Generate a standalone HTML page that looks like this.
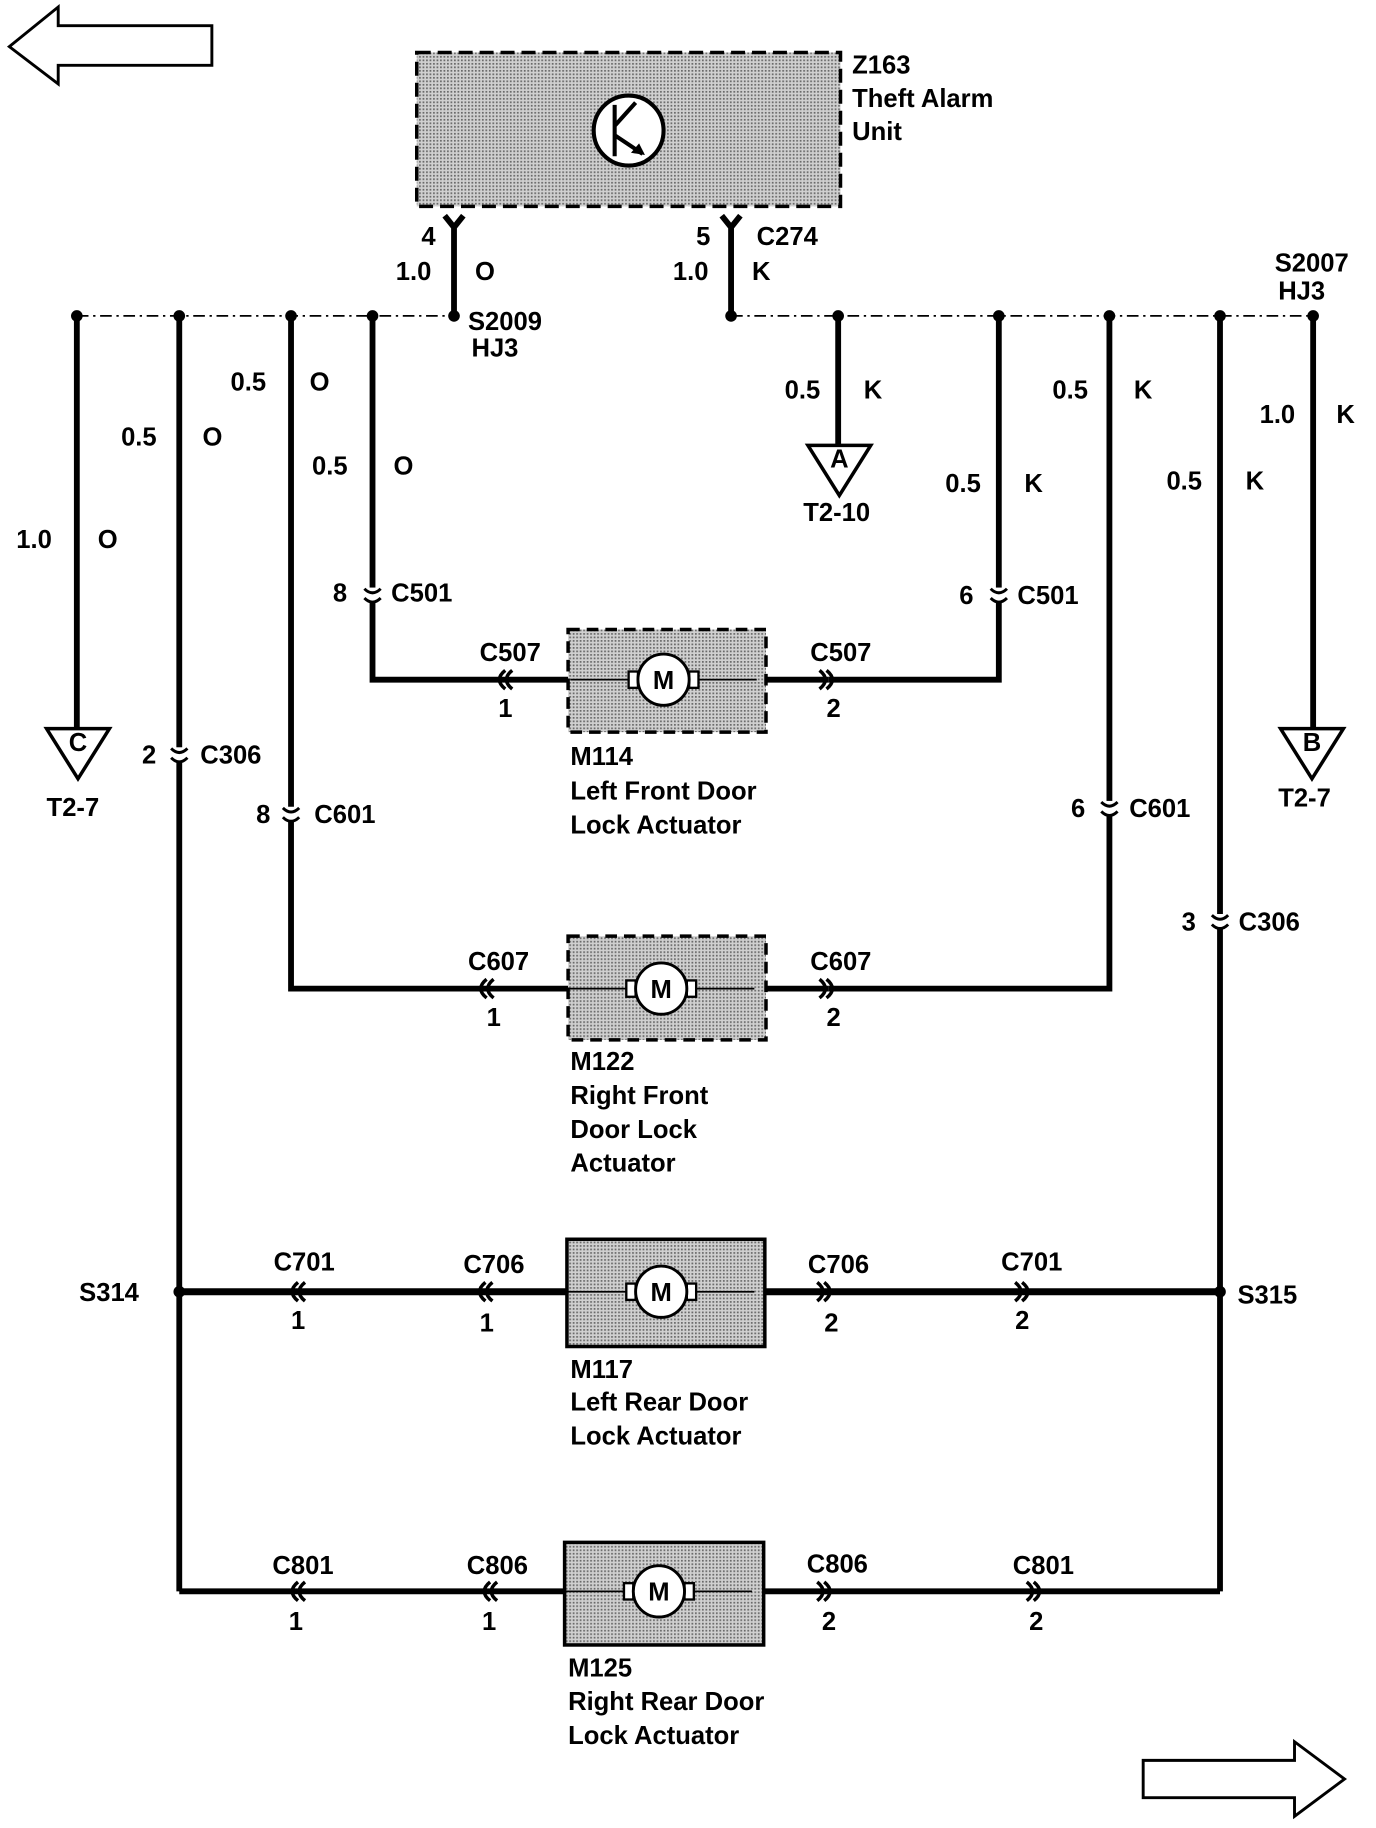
<!DOCTYPE html>
<html><head><meta charset="utf-8"><style>
html,body{margin:0;padding:0;background:#fff}
svg{display:block}
text{font-family:"Liberation Sans",sans-serif;font-weight:bold;font-size:22px;fill:#000}
</style></head><body>
<svg width="1376" height="1828" viewBox="0 0 1182 1568" preserveAspectRatio="none" xmlns="http://www.w3.org/2000/svg">
<defs>
<pattern id="dots" width="3" height="3" patternUnits="userSpaceOnUse">
<rect width="3" height="3" fill="#d0d0d0"/><rect width="1.5" height="1.5" fill="#6a6a6a"/>
</pattern>
<g id="motor">
<line x1="-80" y1="0" x2="80" y2="0" stroke="#000" stroke-width="1.5"/>
<rect x="-30" y="-7" width="8" height="14" fill="#fff" stroke="#000" stroke-width="2"/>
<rect x="22" y="-7" width="8" height="14" fill="#fff" stroke="#000" stroke-width="2"/>
<circle r="22" fill="#fff" stroke="#000" stroke-width="2.5"/>
<text x="0" y="8" text-anchor="middle" font-size="22">M</text>
</g>
<g id="connL"><path d="M6,-8 Q-4,0 6,8 M12,-8 Q2,0 12,8" fill="none" stroke="#000" stroke-width="3"/></g>
<g id="connR"><path d="M-6,-8 Q4,0 -6,8 M-12,-8 Q-2,0 -12,8" fill="none" stroke="#000" stroke-width="3"/></g>
<g id="connV"><rect x="-8" y="-6" width="16" height="12" fill="#fff"/><path d="M-7,-5 Q0,2 7,-5 M-7,3 Q0,10 7,3" fill="none" stroke="#000" stroke-width="2.5"/></g>
</defs>
<g fill="none" stroke="#000" stroke-width="2.5">
<polygon points="8,40 50,6 50,22 182,22 182,56 50,56 50,72"/>
<polygon points="1155,1526 1112,1494 1112,1510 982,1510 982,1542 1112,1542 1112,1558"/>
</g>
<!-- Z163 -->
<rect x="358" y="45" width="364" height="132" fill="url(#dots)" stroke="#000" stroke-width="3" stroke-dasharray="12,6"/>
<circle cx="540" cy="112" r="30" fill="#fff" stroke="#000" stroke-width="3.5"/>
<path d="M528,90 L528,134 M528,108 L546,88 M528,116 L552,132" stroke="#000" stroke-width="3.5" fill="none"/>
<polygon points="554,133 542,131 549,123" fill="#000"/>
<text x="732" y="63">Z163</text><text x="732" y="92">Theft Alarm</text><text x="732" y="120">Unit</text>
<!-- top wires -->
<g stroke="#000" stroke-width="5" fill="none">
<path d="M382,185 L390,195 L398,185 M390,195 L390,271"/>
<path d="M620,185 L628,195 L636,185 M628,195 L628,271"/>
</g>
<text x="362" y="210">4</text><text x="340" y="240">1.0</text><text x="408" y="240">O</text>
<text x="598" y="210">5</text><text x="650" y="210">C274</text><text x="578" y="240">1.0</text><text x="646" y="240">K</text>
<g stroke="#000" stroke-width="1.5" stroke-dasharray="10,4,2,4">
<line x1="66" y1="271" x2="390" y2="271"/><line x1="628" y1="271" x2="1128" y2="271"/>
</g>
<text x="402" y="283">S2009</text><text x="405" y="306">HJ3</text>
<text x="1095" y="233">S2007</text><text x="1098" y="257">HJ3</text>
<!-- verticals and horizontals -->
<g stroke="#000" stroke-width="5" fill="none">
<line x1="66" y1="271" x2="66" y2="625"/>
<line x1="154" y1="271" x2="154" y2="1365"/>
<path d="M250,271 L250,848 L420,848"/>
<path d="M320,271 L320,583 L430,583"/>
<line x1="720" y1="271" x2="720" y2="382"/>
<path d="M858,271 L858,583 L712,583"/>
<path d="M953,271 L953,848 L712,848"/>
<line x1="1048" y1="271" x2="1048" y2="1365"/>
<line x1="1128" y1="271" x2="1128" y2="625"/>
<line x1="154" y1="1108" x2="487" y2="1108" stroke-width="6"/>
<line x1="657" y1="1108" x2="1048" y2="1108" stroke-width="6"/>
<line x1="154" y1="1365" x2="485" y2="1365"/>
<line x1="656" y1="1365" x2="1048" y2="1365"/>
<line x1="430" y1="583" x2="488" y2="583"/><line x1="658" y1="583" x2="712" y2="583"/>
<line x1="420" y1="848" x2="488" y2="848"/><line x1="658" y1="848" x2="712" y2="848"/>
</g>
<g fill="#000">
<circle cx="66" cy="271" r="5"/><circle cx="154" cy="271" r="5"/><circle cx="250" cy="271" r="5"/><circle cx="320" cy="271" r="5"/><circle cx="390" cy="271" r="5"/>
<circle cx="628" cy="271" r="5"/><circle cx="720" cy="271" r="5"/><circle cx="858" cy="271" r="5"/><circle cx="953" cy="271" r="5"/><circle cx="1048" cy="271" r="5"/><circle cx="1128" cy="271" r="5"/>
<circle cx="154" cy="1108" r="5"/><circle cx="1048" cy="1108" r="5"/>
</g>
<!-- triangles -->
<g fill="#fff" stroke="#000" stroke-width="3">
<polygon points="40,625 94,625 67,668"/><polygon points="694,382 748,382 721,425"/><polygon points="1100,625 1154,625 1127,668"/>
</g>
<text x="67" y="644" text-anchor="middle" font-size="14">C</text>
<text x="721" y="401" text-anchor="middle" font-size="14">A</text>
<text x="1127" y="644" text-anchor="middle" font-size="14">B</text>
<text x="40" y="700">T2-7</text><text x="690" y="447">T2-10</text><text x="1098" y="692">T2-7</text>
<!-- wire labels -->
<text x="14" y="470">1.0</text><text x="84" y="470">O</text>
<text x="104" y="382">0.5</text><text x="174" y="382">O</text>
<text x="198" y="335">0.5</text><text x="266" y="335">O</text>
<text x="268" y="407">0.5</text><text x="338" y="407">O</text>
<text x="674" y="342">0.5</text><text x="742" y="342">K</text>
<text x="812" y="422">0.5</text><text x="880" y="422">K</text>
<text x="904" y="342">0.5</text><text x="974" y="342">K</text>
<text x="1002" y="420">0.5</text><text x="1070" y="420">K</text>
<text x="1082" y="363">1.0</text><text x="1148" y="363">K</text>
<!-- vertical connectors -->
<use href="#connV" x="154" y="647"/><text x="122" y="655">2</text><text x="172" y="655">C306</text>
<use href="#connV" x="250" y="698"/><text x="220" y="706">8</text><text x="270" y="706">C601</text>
<use href="#connV" x="320" y="510"/><text x="286" y="516">8</text><text x="336" y="516">C501</text>
<use href="#connV" x="858" y="510"/><text x="824" y="518">6</text><text x="874" y="518">C501</text>
<use href="#connV" x="953" y="693"/><text x="920" y="701">6</text><text x="970" y="701">C601</text>
<use href="#connV" x="1048" y="790"/><text x="1015" y="798">3</text><text x="1064" y="798">C306</text>
<!-- M114 -->
<rect x="488" y="540" width="170" height="88" fill="url(#dots)" stroke="#000" stroke-width="3" stroke-dasharray="10,6"/>
<use href="#motor" x="570" y="583"/>
<use href="#connL" x="428" y="583"/><use href="#connR" x="716" y="583"/>
<text x="412" y="567">C507</text><text x="428" y="615">1</text><text x="696" y="567">C507</text><text x="710" y="615">2</text>
<text x="490" y="656">M114</text><text x="490" y="686">Left Front Door</text><text x="490" y="715">Lock Actuator</text>
<!-- M122 -->
<rect x="488" y="803" width="170" height="89" fill="url(#dots)" stroke="#000" stroke-width="3" stroke-dasharray="10,6"/>
<use href="#motor" x="568" y="848"/>
<use href="#connL" x="412" y="848"/><use href="#connR" x="716" y="848"/>
<text x="402" y="832">C607</text><text x="418" y="880">1</text><text x="696" y="832">C607</text><text x="710" y="880">2</text>
<text x="490" y="918">M122</text><text x="490" y="947">Right Front</text><text x="490" y="976">Door Lock</text><text x="490" y="1005">Actuator</text>
<!-- M117 -->
<rect x="487" y="1063" width="170" height="92" fill="url(#dots)" stroke="#000" stroke-width="3"/>
<use href="#motor" x="568" y="1108"/>
<use href="#connL" x="250" y="1108"/><use href="#connL" x="411" y="1108"/><use href="#connR" x="714" y="1108"/><use href="#connR" x="884" y="1108"/>
<text x="235" y="1090">C701</text><text x="250" y="1140">1</text><text x="398" y="1092">C706</text><text x="412" y="1142">1</text>
<text x="694" y="1092">C706</text><text x="708" y="1142">2</text><text x="860" y="1090">C701</text><text x="872" y="1140">2</text>
<text x="68" y="1116">S314</text><text x="1063" y="1118">S315</text>
<text x="490" y="1182">M117</text><text x="490" y="1210">Left Rear Door</text><text x="490" y="1239">Lock Actuator</text>
<!-- M125 -->
<rect x="485" y="1323" width="171" height="88" fill="url(#dots)" stroke="#000" stroke-width="3"/>
<use href="#motor" x="566" y="1365"/>
<use href="#connL" x="250" y="1365"/><use href="#connL" x="415" y="1365"/><use href="#connR" x="714" y="1365"/><use href="#connR" x="894" y="1365"/>
<text x="234" y="1350">C801</text><text x="248" y="1398">1</text><text x="401" y="1350">C806</text><text x="414" y="1398">1</text>
<text x="693" y="1349">C806</text><text x="706" y="1398">2</text><text x="870" y="1350">C801</text><text x="884" y="1398">2</text>
<text x="488" y="1438">M125</text><text x="488" y="1467">Right Rear Door</text><text x="488" y="1496">Lock Actuator</text>
</svg>
</body></html>
